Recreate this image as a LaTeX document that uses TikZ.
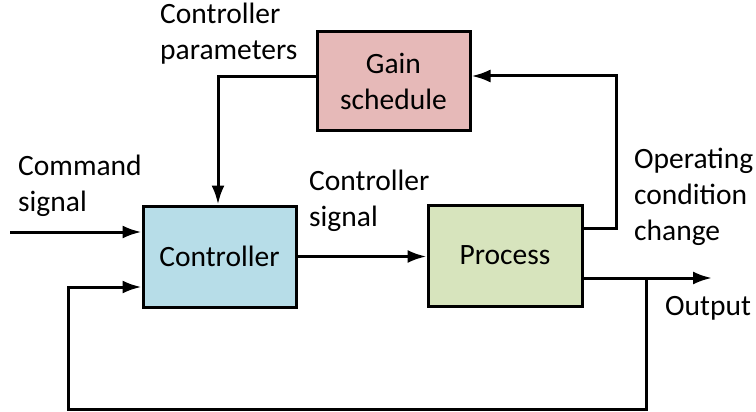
\documentclass[tikz,border=0pt]{standalone}
\usepackage{fontspec}
\setmainfont{Carlito}
\usetikzlibrary{arrows.meta}
\definecolor{gainfill}{HTML}{E6B9B8}
\definecolor{ctrlfill}{HTML}{B7DDE8}
\definecolor{procfill}{HTML}{D7E4BD}

\begin{document}
\begin{tikzpicture}[
  x=1pt,y=-1pt,
  ray/.style={-{Latex[length=19pt,width=13pt]},line width=3pt},
  block/.style={draw=black,line width=3pt,minimum width=153pt,minimum height=99pt,
    font=\fontsize{29.5}{36}\selectfont,align=center,inner sep=0pt},
  label/.style={font=\fontsize{29.5}{36}\selectfont,align=left,anchor=west,inner sep=0pt},
]
\useasboundingbox (0,0) rectangle (756,412);
\node[block,fill=gainfill] (gain) at (393.5,81) {Gain\\schedule};
\node[block,fill=ctrlfill,minimum height=101pt] (ctrl) at (219.5,256.5) {Controller};
\node[block,fill=procfill,minimum width=154pt,minimum height=101pt] (proc) at (505,255.5) {Process};
\node[label] (lpar) at (160,34) {Controller\\parameters};
\node[label] (lcmd) at (18,186) {Command\\signal};
\node[label] (lsig) at (309,201) {Controller\\signal};
\node[label] (lopc) at (634,197) {Operating\\condition\\change};
\node[label] (lout) at (665,308) {Output};
\coordinate (cmd) at (10,232);
\coordinate (par) at (218,77);
\coordinate (turn) at (616,76);
\coordinate (out) at (712,278);
\coordinate (tap) at (646,278);
\coordinate (low) at (68,409);
\draw[ray] (cmd) -- (cmd -| ctrl.west);
\draw[ray] (ctrl.east) -- (ctrl.east -| proc.west);
\draw[ray] (proc.east |- 0,228) -| (turn) -- (turn -| gain.east);
\draw[ray] (par -| gain.west) -- (par) -- (par |- ctrl.north);
\draw[ray] (out -| proc.east) -- (out);
\draw[ray] (tap) |- (low) |- (ctrl.west |- 0,287);
\end{tikzpicture}
\end{document}
